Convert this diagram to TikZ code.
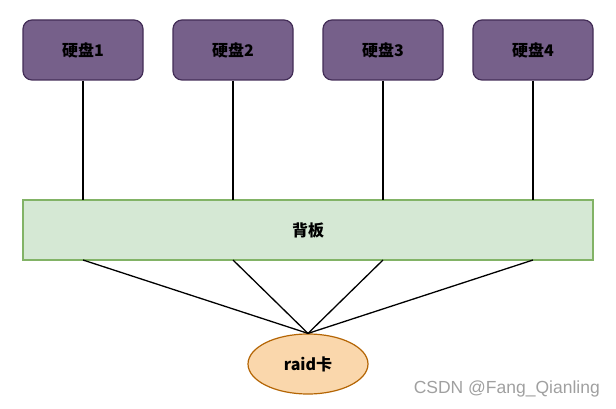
\documentclass[tikz,border=0pt]{standalone}
\usepackage{fontspec}
\setmainfont{Liberation Sans}
\newfontfamily\cjk{Noto Sans CJK SC}
\usetikzlibrary{shapes.geometric}
\definecolor{diskfill}{HTML}{76608A}
\definecolor{diskline}{HTML}{432D57}
\definecolor{bpfill}{HTML}{D5E8D4}
\definecolor{bpline}{HTML}{82B366}
\definecolor{raidfill}{HTML}{FAD7AC}
\definecolor{raidline}{HTML}{B46504}
\definecolor{wmgray}{HTML}{A0A0A0}
\begin{document}
\begin{tikzpicture}[x=1pt,y=-1pt,
  disk/.style={draw=diskline,fill=diskfill,rounded corners=9pt,line width=1.2pt,
    minimum width=120pt,minimum height=60pt,inner sep=0pt,
    font=\fontsize{16pt}{18pt}\cjk\bfseries,text=black},
  board/.style={draw=bpline,fill=bpfill,line width=1.2pt,
    minimum width=570pt,minimum height=60pt,inner sep=0pt,
    font=\fontsize{16pt}{18pt}\cjk\bfseries},
  raid/.style={ellipse,draw=raidline,fill=raidfill,line width=1.2pt,
    minimum width=120pt,minimum height=60pt,inner sep=0pt,
    font=\fontsize{16pt}{18pt}\cjk\bfseries},
  wire/.style={draw=black,line width=1.3pt}]
\useasboundingbox (0,0) rectangle (616,409);
\node[disk] (d1) at (83,50) {硬盘1};
\node[disk] (d2) at (233,50) {硬盘2};
\node[disk] (d3) at (383,50) {硬盘3};
\node[disk] (d4) at (533,50) {硬盘4};
\node[board] (bp) at (308,230) {背板};
\node[raid] (rc) at (308,364) {raid卡};
\foreach \i/\x in {1/83,2/233,3/383,4/533}{
  \coordinate (t\i) at (\x,200);
  \coordinate (b\i) at (\x,260);
  \draw[wire] (d\i.south) -- (t\i);
  \draw[wire] (b\i) -- (rc.north);
}
\node[anchor=east,text=wmgray,font=\fontsize{17.5pt}{20pt}\selectfont,inner sep=0pt] (wm) at (600,389) {CSDN @Fang\_Qianling};
\end{tikzpicture}
\end{document}
